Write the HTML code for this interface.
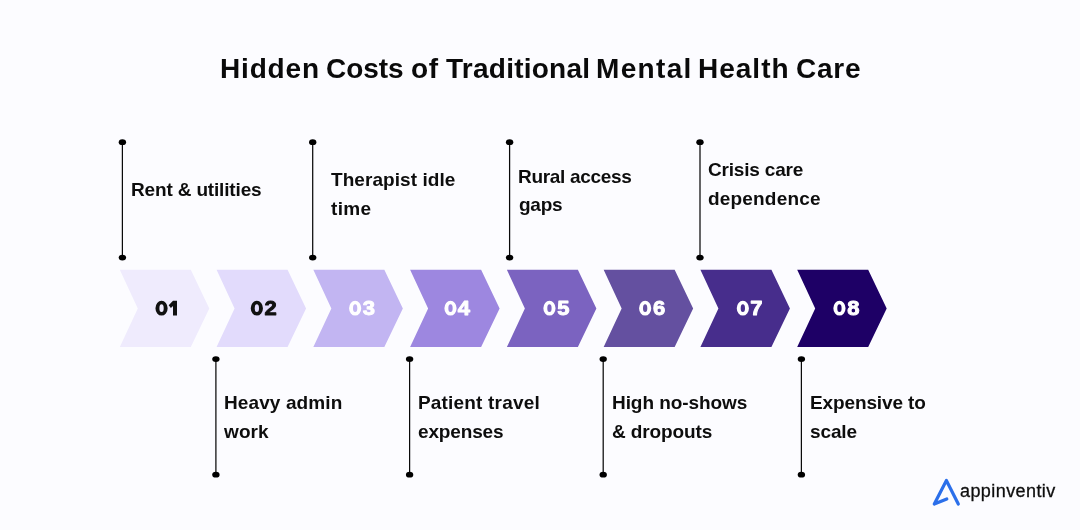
<!DOCTYPE html>
<html><head><meta charset="utf-8">
<style>
html,body{margin:0;padding:0;background:#FCFCFF;}
body{width:1080px;height:530px;overflow:hidden;background:#FCFCFF;position:relative;font-family:"Liberation Sans",sans-serif;}
svg{position:absolute;left:0;top:0;will-change:transform;}
.tw{position:absolute;will-change:transform;top:52.20px;font-weight:bold;font-size:28px;line-height:33.6px;letter-spacing:0.39px;color:#0A0A0A;white-space:nowrap;}
.lb{position:absolute;will-change:transform;font-weight:bold;font-size:19px;line-height:22.8px;color:#0D0D0D;white-space:nowrap;}
.logo{position:absolute;will-change:transform;left:959.9px;top:480.56px;font-size:18px;line-height:21.6px;letter-spacing:0.42px;color:#0E0E0E;white-space:nowrap;-webkit-text-stroke:0.3px #0E0E0E;}
</style></head><body>
<svg width="1080" height="530" viewBox="0 0 1080 530">
<polygon fill="#EFEBFD" points="119.80,269.80 190.80,269.80 209.30,308.40 190.80,347.10 119.80,347.10 137.80,308.40"/>
<polygon fill="#E2DBFC" points="216.57,269.80 287.57,269.80 306.07,308.40 287.57,347.10 216.57,347.10 234.57,308.40"/>
<polygon fill="#C2B5F2" points="313.34,269.80 384.34,269.80 402.84,308.40 384.34,347.10 313.34,347.10 331.34,308.40"/>
<polygon fill="#9D87E0" points="410.11,269.80 481.11,269.80 499.61,308.40 481.11,347.10 410.11,347.10 428.11,308.40"/>
<polygon fill="#7B63C0" points="506.88,269.80 577.88,269.80 596.38,308.40 577.88,347.10 506.88,347.10 524.88,308.40"/>
<polygon fill="#6450A0" points="603.65,269.80 674.65,269.80 693.15,308.40 674.65,347.10 603.65,347.10 621.65,308.40"/>
<polygon fill="#472D8C" points="700.42,269.80 771.42,269.80 789.92,308.40 771.42,347.10 700.42,347.10 718.42,308.40"/>
<polygon fill="#1E0066" points="797.19,269.80 868.19,269.80 886.69,308.40 868.19,347.10 797.19,347.10 815.19,308.40"/>
<line x1="122.40" y1="142.20" x2="122.40" y2="257.60" stroke="#0A0A0A" stroke-width="1.25"/>
<ellipse cx="122.40" cy="142.20" rx="3.7" ry="2.9" fill="#000"/>
<ellipse cx="122.40" cy="257.60" rx="3.7" ry="2.9" fill="#000"/>
<line x1="215.90" y1="359.10" x2="215.90" y2="474.70" stroke="#0A0A0A" stroke-width="1.25"/>
<ellipse cx="215.90" cy="359.10" rx="3.7" ry="2.9" fill="#000"/>
<ellipse cx="215.90" cy="474.70" rx="3.7" ry="2.9" fill="#000"/>
<line x1="312.70" y1="142.20" x2="312.70" y2="257.60" stroke="#0A0A0A" stroke-width="1.25"/>
<ellipse cx="312.70" cy="142.20" rx="3.7" ry="2.9" fill="#000"/>
<ellipse cx="312.70" cy="257.60" rx="3.7" ry="2.9" fill="#000"/>
<line x1="409.60" y1="359.10" x2="409.60" y2="474.70" stroke="#0A0A0A" stroke-width="1.25"/>
<ellipse cx="409.60" cy="359.10" rx="3.7" ry="2.9" fill="#000"/>
<ellipse cx="409.60" cy="474.70" rx="3.7" ry="2.9" fill="#000"/>
<line x1="509.60" y1="142.20" x2="509.60" y2="257.60" stroke="#0A0A0A" stroke-width="1.25"/>
<ellipse cx="509.60" cy="142.20" rx="3.7" ry="2.9" fill="#000"/>
<ellipse cx="509.60" cy="257.60" rx="3.7" ry="2.9" fill="#000"/>
<line x1="603.20" y1="359.10" x2="603.20" y2="474.70" stroke="#0A0A0A" stroke-width="1.25"/>
<ellipse cx="603.20" cy="359.10" rx="3.7" ry="2.9" fill="#000"/>
<ellipse cx="603.20" cy="474.70" rx="3.7" ry="2.9" fill="#000"/>
<line x1="700.00" y1="142.20" x2="700.00" y2="257.60" stroke="#0A0A0A" stroke-width="1.25"/>
<ellipse cx="700.00" cy="142.20" rx="3.7" ry="2.9" fill="#000"/>
<ellipse cx="700.00" cy="257.60" rx="3.7" ry="2.9" fill="#000"/>
<line x1="801.40" y1="359.10" x2="801.40" y2="474.70" stroke="#0A0A0A" stroke-width="1.25"/>
<ellipse cx="801.40" cy="359.10" rx="3.7" ry="2.9" fill="#000"/>
<ellipse cx="801.40" cy="474.70" rx="3.7" ry="2.9" fill="#000"/>
<path d="M934.3,504.0 L946.8,499.0 M934.3,504.0 L946.4,480.5 L958.3,504.0" fill="none" stroke="#2B6FEA" stroke-width="3.2" stroke-linecap="round" stroke-linejoin="round"/>
<path fill="#111111" fill-rule="evenodd" d="M155.45,308.20 a6.10,7.40 0 1,0 12.20,0 a6.10,7.40 0 1,0 -12.20,0 Z M159.40,308.20 a2.15,3.85 0 1,0 4.30,0 a2.15,3.85 0 1,0 -4.30,0 Z"/>
<polygon fill="#111111" points="173.00,300.80 177.00,300.80 177.00,315.60 173.00,315.60 173.00,306.00 170.90,308.00 168.70,305.20"/>
<path fill="#111111" fill-rule="evenodd" d="M250.75,308.20 a6.10,7.40 0 1,0 12.20,0 a6.10,7.40 0 1,0 -12.20,0 Z M254.70,308.20 a2.15,3.85 0 1,0 4.30,0 a2.15,3.85 0 1,0 -4.30,0 Z"/>
<text x="0" y="0" transform="translate(270.55,314.90) scale(1.1,1)" text-anchor="middle" font-family="Liberation Sans" font-weight="bold" font-size="20" fill="#111111" stroke="#111111" stroke-width="0.9" stroke-linejoin="round">2</text>
<path fill="#FFFFFF" fill-rule="evenodd" d="M349.05,308.20 a6.10,7.40 0 1,0 12.20,0 a6.10,7.40 0 1,0 -12.20,0 Z M353.00,308.20 a2.15,3.85 0 1,0 4.30,0 a2.15,3.85 0 1,0 -4.30,0 Z"/>
<text x="0" y="0" transform="translate(368.85,314.90) scale(1.1,1)" text-anchor="middle" font-family="Liberation Sans" font-weight="bold" font-size="20" fill="#FFFFFF" stroke="#FFFFFF" stroke-width="0.9" stroke-linejoin="round">3</text>
<path fill="#FFFFFF" fill-rule="evenodd" d="M444.40,308.20 a6.10,7.40 0 1,0 12.20,0 a6.10,7.40 0 1,0 -12.20,0 Z M448.35,308.20 a2.15,3.85 0 1,0 4.30,0 a2.15,3.85 0 1,0 -4.30,0 Z"/>
<text x="0" y="0" transform="translate(463.90,314.90) scale(1.1,1)" text-anchor="middle" font-family="Liberation Sans" font-weight="bold" font-size="20" fill="#FFFFFF" stroke="#FFFFFF" stroke-width="0.9" stroke-linejoin="round">4</text>
<path fill="#FFFFFF" fill-rule="evenodd" d="M543.35,308.20 a6.10,7.40 0 1,0 12.20,0 a6.10,7.40 0 1,0 -12.20,0 Z M547.30,308.20 a2.15,3.85 0 1,0 4.30,0 a2.15,3.85 0 1,0 -4.30,0 Z"/>
<text x="0" y="0" transform="translate(563.35,314.90) scale(1.1,1)" text-anchor="middle" font-family="Liberation Sans" font-weight="bold" font-size="20" fill="#FFFFFF" stroke="#FFFFFF" stroke-width="0.9" stroke-linejoin="round">5</text>
<path fill="#FFFFFF" fill-rule="evenodd" d="M639.05,308.20 a6.10,7.40 0 1,0 12.20,0 a6.10,7.40 0 1,0 -12.20,0 Z M643.00,308.20 a2.15,3.85 0 1,0 4.30,0 a2.15,3.85 0 1,0 -4.30,0 Z"/>
<text x="0" y="0" transform="translate(659.05,314.90) scale(1.1,1)" text-anchor="middle" font-family="Liberation Sans" font-weight="bold" font-size="20" fill="#FFFFFF" stroke="#FFFFFF" stroke-width="0.9" stroke-linejoin="round">6</text>
<path fill="#FFFFFF" fill-rule="evenodd" d="M736.75,308.20 a6.10,7.40 0 1,0 12.20,0 a6.10,7.40 0 1,0 -12.20,0 Z M740.70,308.20 a2.15,3.85 0 1,0 4.30,0 a2.15,3.85 0 1,0 -4.30,0 Z"/>
<text x="0" y="0" transform="translate(756.35,314.90) scale(1.1,1)" text-anchor="middle" font-family="Liberation Sans" font-weight="bold" font-size="20" fill="#FFFFFF" stroke="#FFFFFF" stroke-width="0.9" stroke-linejoin="round">7</text>
<path fill="#FFFFFF" fill-rule="evenodd" d="M833.35,308.20 a6.10,7.40 0 1,0 12.20,0 a6.10,7.40 0 1,0 -12.20,0 Z M837.30,308.20 a2.15,3.85 0 1,0 4.30,0 a2.15,3.85 0 1,0 -4.30,0 Z"/>
<text x="0" y="0" transform="translate(853.35,314.90) scale(1.1,1)" text-anchor="middle" font-family="Liberation Sans" font-weight="bold" font-size="20" fill="#FFFFFF" stroke="#FFFFFF" stroke-width="0.9" stroke-linejoin="round">8</text>
</svg>
<div class="tw" style="left:219.60px;letter-spacing:0.84px">Hidden</div>
<div class="tw" style="left:326.20px;letter-spacing:-0.08px">Costs</div>
<div class="tw" style="left:410.60px;letter-spacing:0.60px">of</div>
<div class="tw" style="left:446.20px;letter-spacing:0.25px">Traditional</div>
<div class="tw" style="left:596.40px;letter-spacing:1.34px">Mental</div>
<div class="tw" style="left:698.40px;letter-spacing:1.00px">Health</div>
<div class="tw" style="left:796.00px;letter-spacing:0.77px">Care</div>
<div class="lb" style="left:131.00px;top:179.12px;letter-spacing:-0.16px">Rent &amp; utilities</div>
<div class="lb" style="left:223.90px;top:392.12px;letter-spacing:0.11px">Heavy admin</div>
<div class="lb" style="left:223.90px;top:421.12px;letter-spacing:0.11px">work</div>
<div class="lb" style="left:330.80px;top:169.12px;letter-spacing:0.06px">Therapist idle</div>
<div class="lb" style="left:330.80px;top:198.12px;letter-spacing:0.33px">time</div>
<div class="lb" style="left:417.50px;top:392.12px;letter-spacing:0.18px">Patient travel</div>
<div class="lb" style="left:417.50px;top:421.12px;letter-spacing:-0.15px">expenses</div>
<div class="lb" style="left:517.50px;top:166.12px;letter-spacing:-0.31px">Rural access</div>
<div class="lb" style="left:518.50px;top:194.12px;letter-spacing:-0.24px">gaps</div>
<div class="lb" style="left:612.00px;top:392.12px;letter-spacing:-0.07px">High no-shows</div>
<div class="lb" style="left:612.00px;top:421.12px;letter-spacing:-0.12px">&amp; dropouts</div>
<div class="lb" style="left:707.70px;top:159.12px;letter-spacing:-0.18px">Crisis care</div>
<div class="lb" style="left:707.70px;top:188.12px;letter-spacing:0.18px">dependence</div>
<div class="lb" style="left:809.70px;top:392.12px;letter-spacing:-0.12px">Expensive to</div>
<div class="lb" style="left:809.70px;top:421.12px;letter-spacing:-0.12px">scale</div>
<div class="logo">appinventiv</div>
</body></html>
